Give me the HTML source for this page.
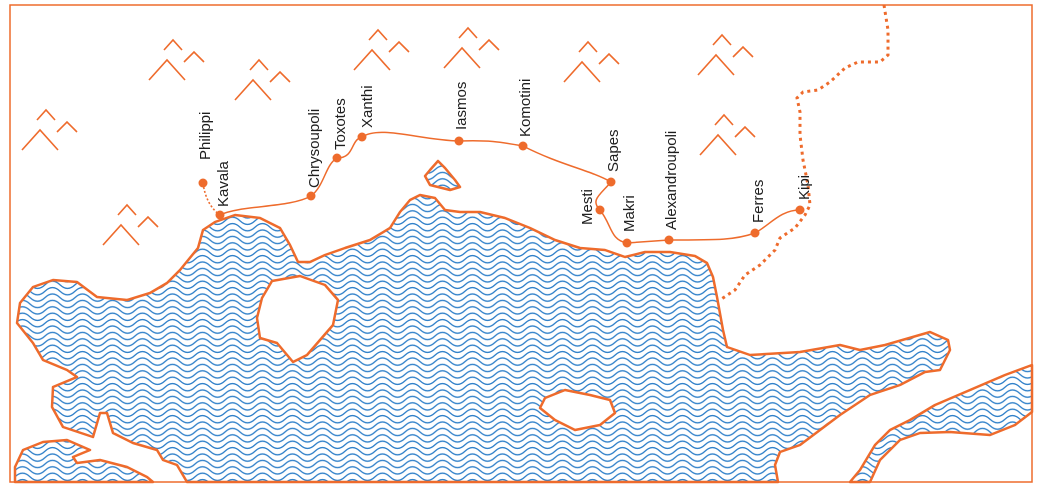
<!DOCTYPE html>
<html><head><meta charset="utf-8"><style>
html,body{margin:0;padding:0;background:#fff;}
svg{display:block}
text{font-family:"Liberation Sans",sans-serif;font-size:15px;fill:#1e1e1e}
</style></head><body>
<svg width="1042" height="492" viewBox="0 0 1042 492" xmlns="http://www.w3.org/2000/svg">
<defs>
<pattern id="w" patternUnits="userSpaceOnUse" width="30" height="6.4">
<g fill="none" stroke="#2f80c9" stroke-width="1.3">
<path id="wl" d="M-15 3.2 C-10 -1.6,-5 -1.6,0 3.2 S10 8,15 3.2 S25 -1.6,30 3.2 S40 8,45 3.2"/>
<use href="#wl" y="-6.4"/>
<use href="#wl" y="6.4"/>
</g>
</pattern>
<g id="m" fill="none" stroke="#ee6b2c" stroke-width="1.6">
<path d="M-18 20 L0 0 L18 20"/>
<path d="M-3 -10 L6 -20 L15 -10"/>
<path d="M17 2 L27 -8 L37 2"/>
</g>
</defs>
<rect x="10" y="5" width="1022" height="477" fill="none" stroke="#ee6b2c" stroke-width="1.5"/>

<g fill="url(#w)" stroke="#ee6b2c" stroke-width="2.5" stroke-linejoin="round">
<path d="M17 323 L20 303 L33 287 L53 280 L77 282 L97 297 L127 300 L150 293 L167 283 L180 270 L198 248 L203 230 L215 222 L235 215 L260 218 L280 228 L290 245 L298 262 L310 262 L325 255 L345 248 L370 240 L390 228 L400 212 L410 200 L420 195 L435 198 L445 210 L460 212 L480 212 L505 218 L530 228 L555 240 L580 248 L605 250 L625 257 L645 252 L670 252 L695 256 L707 263 L713 277 L717 297 L723 330 L727 347 L750 355 L800 352 L840 345 L860 350 L885 345 L930 332 L948 340 L950 350 L940 370 L925 372 L900 385 L870 395 L840 415 L800 445 L780 452 L775 465 L778 482 L187 482 L177 465 L163 460 L157 450 L133 443 L113 433 L107 413 L100 413 L93 437 L63 427 L52 407 L53 387 L77 377 L67 370 L43 360 L33 343 Z"/>
<path d="M15 482 L15 467 L23 450 L43 442 L67 440 L90 450 L73 457 L77 463 L100 460 L127 467 L147 477 L153 482 Z"/>
<path d="M850 482 L860 470 L875 445 L890 430 L910 420 L935 405 L970 390 L1005 375 L1032 365 L1032 412 L1015 425 L990 435 L950 432 L920 433 L900 440 L880 460 L870 482 Z"/>
<path d="M430 170 L438 161 L445 168 L455 180 L460 187 L450 190 L430 185 L425 176 Z"/>
</g>
<g fill="#fff" stroke="#ee6b2c" stroke-width="2.5" stroke-linejoin="round">
<path d="M262 298 L272 281 L300 276 L325 285 L338 300 L333 325 L320 340 L307 355 L293 362 L277 343 L260 338 L257 318 Z"/>
<path d="M545 398 L565 390 L590 395 L610 400 L615 413 L600 425 L575 430 L555 420 L540 408 Z"/>
</g>

<use href="#m" x="40" y="130"/>
<use href="#m" x="167" y="60"/>
<use href="#m" x="253" y="80"/>
<use href="#m" x="372" y="50"/>
<use href="#m" x="462" y="48"/>
<use href="#m" x="582" y="62"/>
<use href="#m" x="716" y="55"/>
<use href="#m" x="718" y="135"/>
<use href="#m" x="121" y="225"/>

<path d="M884 5 L888 30 L888 55 L880 62 L858 62 L845 68 L830 82 L818 90 L803 92 L797 98 L800 112 L800 135 L803 160 L808 185 L810 205 L805 215 L795 228 L780 238 L775 250 L760 265 L745 275 L735 290 L720 300" fill="none" stroke="#ee6b2c" stroke-width="3" stroke-dasharray="3 4"/>
<path d="M203 183 Q206 205 220 215" fill="none" stroke="#ee6b2c" stroke-width="1.6" stroke-dasharray="2 2"/>
<path d="M220 215 C240 205,290 208,311 196 C325 185,325 165,337 158 C355 158,350 140,362 137 C380 125,420 140,459 141 C490 140,500 142,523 146 C560 165,590 170,611 182 C600 195,590 200,600 210 C612 225,610 240,627 243 L669 240 C720 240,735 240,755 233 C770 225,780 210,800 210" fill="none" stroke="#ee6b2c" stroke-width="1.5"/>
<g fill="#ee6b2c">
<circle cx="203" cy="183" r="4.5"/><circle cx="220" cy="215" r="4.5"/><circle cx="311" cy="196" r="4.5"/><circle cx="337" cy="158" r="4.5"/><circle cx="362" cy="137" r="4.5"/><circle cx="459" cy="141" r="4.5"/><circle cx="523" cy="146" r="4.5"/><circle cx="611" cy="182" r="4.5"/><circle cx="600" cy="210" r="4.5"/><circle cx="627" cy="243" r="4.5"/><circle cx="669" cy="240" r="4.5"/><circle cx="755" cy="233" r="4.5"/><circle cx="800" cy="210" r="4.5"/>
</g>
<g>
<text transform="translate(210,160) rotate(-90)">Philippi</text>
<text transform="translate(228,207) rotate(-90)">Kavala</text>
<text transform="translate(319,188) rotate(-90)">Chrysoupoli</text>
<text transform="translate(345,150) rotate(-90)">Toxotes</text>
<text transform="translate(372,128) rotate(-90)">Xanthi</text>
<text transform="translate(466,130) rotate(-90)">Iasmos</text>
<text transform="translate(530,137) rotate(-90)">Komotini</text>
<text transform="translate(618,172) rotate(-90)">Sapes</text>
<text transform="translate(592,225) rotate(-90)">Mesti</text>
<text transform="translate(634,232) rotate(-90)">Makri</text>
<text transform="translate(676,230) rotate(-90)">Alexandroupoli</text>
<text transform="translate(763,223) rotate(-90)">Ferres</text>
<text transform="translate(809,200) rotate(-90)">Kipi</text>
</g>
</svg>
</body></html>
